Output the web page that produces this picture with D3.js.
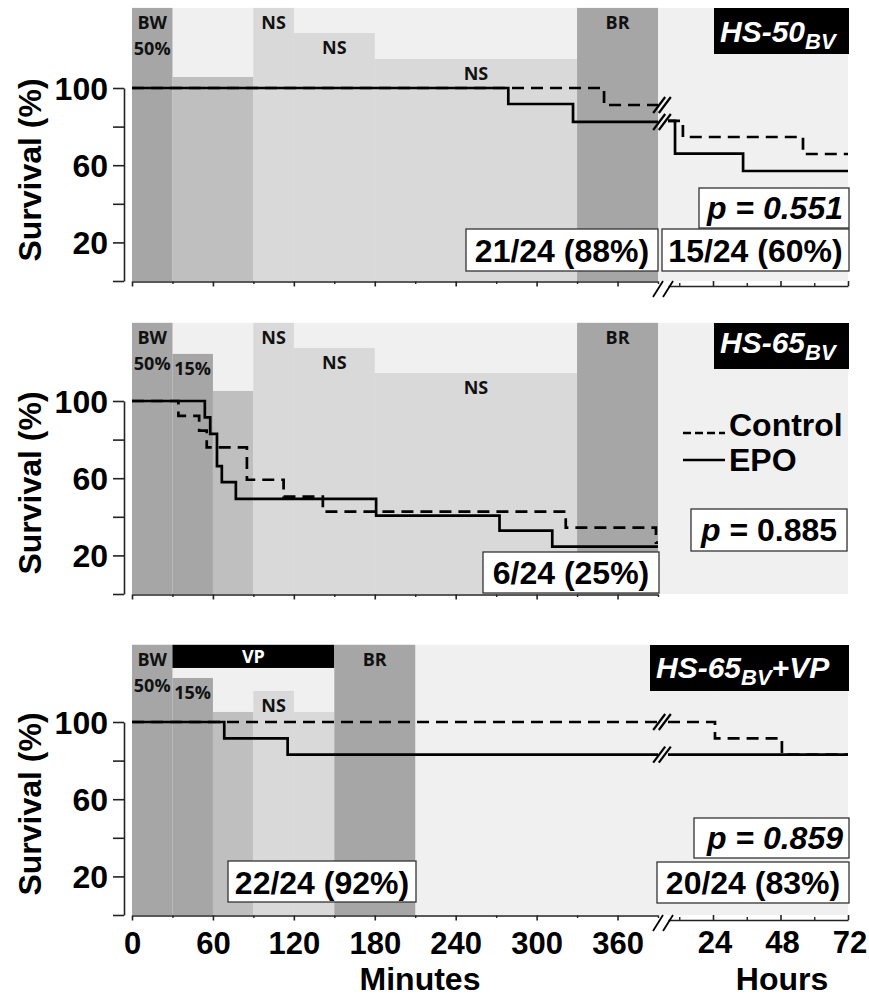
<!DOCTYPE html>
<html><head><meta charset="utf-8">
<script src="https://cdn.jsdelivr.net/npm/d3@7"></script>
<style>body{margin:0;background:#fff} svg{display:block}</style>
</head><body><svg id="c" width="869" height="998"></svg>
<script>
// ---------------- DATA ----------------
const minuteTicks = [0, 60, 120, 180, 240, 300, 360];
const minuteMinorTicks = [30, 90, 150, 210, 270, 330, 390];
const hourTicks = [24, 48, 72];
const hourMinorTicks = [12, 36, 60];
const yTickValues = [0, 20, 40, 60, 80, 100];
const yTickLabels = [20, 60, 100];
const legendLabels = ["Control", "EPO"];
const panelTitles = [["HS-50", "BV", ""], ["HS-65", "BV", ""], ["HS-65", "BV", "+VP"]];
const pValues = ["0.551", "0.885", "0.859"];

// Panel A (HS-50BV): [time, survival %]
const ctrlA_min = [[0, 100], [350, 91.2]];
const epoA_min  = [[0, 100], [279, 91.7], [327, 82.4]];
const ctrlA_hr  = [[8, 83], [13.3, 74.6], [56, 65.8]];
const epoA_hr   = [[8, 83], [10.5, 66], [34.7, 57]];

// Panel B (HS-65BV)
const ctrlB_min = [[0, 100], [34.4, 92.3], [49.8, 84.6], [55.4, 76], [85.2, 59.2], [112.4, 50.5], [141.5, 42.7], [321.6, 34.4], [388.5, 26.6]];
const epoB_min  = [[0, 100], [54, 91.5], [58, 83], [63, 66.3], [66.6, 58], [77, 49.3], [181, 40.6], [272.5, 32.8], [311.6, 24.5]];

// Panel C (HS-65BV+VP)
const ctrlC_min = [[0, 100]];
const epoC_min  = [[0, 100], [68.4, 91.5], [115.4, 83.1]];
const ctrlC_hr  = [[8, 100], [24.7, 91.5], [48.5, 83.1]];
const epoC_hr   = [[8, 83.1]];

// protocol phases: start/end minutes, top level (% units), shade category, labels
const phasesA = [
  {start: 0, end: 30, top: 141.5, shade: "dark", labels: ["BW", "50%"]},
  {start: 30, end: 90, top: 105.7, shade: "mid", labels: []},
  {start: 90, end: 120, top: 141.5, shade: "light", labels: ["NS"]},
  {start: 120, end: 180, top: 128.5, shade: "light", labels: ["NS"]},
  {start: 180, end: 330, top: 115, shade: "light", labels: ["NS"]},
  {start: 330, end: 390, top: 141.5, shade: "dark", labels: ["BR"]}
];
const phasesB = [
  {start: 0, end: 30, top: 140.5, shade: "dark", labels: ["BW", "50%"]},
  {start: 30, end: 60, top: 124.4, shade: "dark", labels: ["15%"]},
  {start: 60, end: 90, top: 105.2, shade: "mid", labels: []},
  {start: 90, end: 120, top: 140.5, shade: "light", labels: ["NS"]},
  {start: 120, end: 180, top: 127.5, shade: "light", labels: ["NS"]},
  {start: 180, end: 330, top: 114.5, shade: "light", labels: ["NS"]},
  {start: 330, end: 390, top: 140.5, shade: "dark", labels: ["BR"]}
];
const phasesC = [
  {start: 0, end: 30, top: 140, shade: "dark", labels: ["BW", "50%"]},
  {start: 30, end: 150, top: 140, bottom: 128, shade: "black", labels: ["VP"]},
  {start: 30, end: 60, top: 122.8, shade: "dark", labels: ["15%"]},
  {start: 60, end: 90, top: 105.2, shade: "mid", labels: []},
  {start: 90, end: 120, top: 116.1, shade: "light", labels: ["NS"]},
  {start: 120, end: 150, top: 105.2, shade: "light", labels: []},
  {start: 150, end: 210, top: 140, shade: "dark", labels: ["BR"]}
];
const countsA = ["21/24 (88%)", "15/24 (60%)"];
const countsB = ["6/24 (25%)"];
const countsC = ["22/24 (92%)", "20/24 (83%)"];

// ---------------- DRAWING ----------------
const svg = d3.select("#c");
const FONT = "'Liberation Sans', Arial, Helvetica, sans-serif";
const LFONT = "'Open Sans', 'DejaVu Sans', sans-serif";
const shadeColor = {dark: "#a6a6a6", mid: "#bfbfbf", light: "#d9d9d9", black: "#000"};
const BG = "#f0f0f0";
const xMin = d3.scaleLinear().domain([0, 390]).range([132, 658]);
const xHr = d3.scaleLinear().domain([24, 72]).range([713, 848]);
const K = 1.93;
const line = (x, y) => d3.line().x(d => x(d[0])).y(d => y(d[1])).curve(d3.curveStepAfter);

function slashPair(g, cx, cy, gap, hw, hh, sw) {
  [-gap, gap].forEach(o => {
    g.append("line").attr("x1", cx + o - hw).attr("y1", cy + hh)
      .attr("x2", cx + o + hw).attr("y2", cy - hh)
      .attr("stroke", "#000").attr("stroke-width", sw);
  });
}

function textBox(g, box, baseline, parts, opts) {
  opts = opts || {};
  g.append("rect").attr("x", box[0]).attr("y", box[1])
    .attr("width", box[2] - box[0]).attr("height", box[3] - box[1])
    .attr("fill", opts.fill || "#fff").attr("stroke", opts.stroke || "#333")
    .attr("stroke-width", opts.stroke === "none" ? 0 : 1.3);
  const t = g.append("text").attr("y", baseline)
    .attr("font-family", FONT).attr("font-weight", "bold")
    .attr("font-size", opts.size || 32).attr("fill", opts.color || "#000");
  parts.forEach(p => {
    const ts = t.append("tspan").text(p.text);
    if (p.italic) ts.attr("font-style", "italic");
    if (p.size) ts.attr("font-size", p.size);
    if (p.dy) ts.attr("dy", p.dy);
  });
  const w = t.node().getComputedTextLength();
  let x;
  if (opts.align === "start") x = box[0] + (opts.pad || 6);
  else if (opts.align === "end") x = box[2] - (opts.pad || 6) - w;
  else x = (box[0] + box[2]) / 2 - w / 2;
  t.attr("x", x);
}

function drawPanel(cfg) {
  const g = svg.append("g");
  const y = d3.scaleLinear().domain([0, 100]).range([cfg.y0, cfg.y0 - 100 * K]);
  const yTop = y(cfg.topV);
  const xRight = cfg.bgRight;
  // background
  g.append("rect").attr("x", xMin(0)).attr("y", yTop).attr("width", xRight - xMin(0))
    .attr("height", cfg.y0 - yTop).attr("fill", BG);
  // phases
  cfg.phases.forEach(p => {
    const top = y(p.top), bot = p.bottom !== undefined ? y(p.bottom) : cfg.y0;
    g.append("rect").attr("x", xMin(p.start)).attr("y", top)
      .attr("width", xMin(p.end) - xMin(p.start)).attr("height", bot - top)
      .attr("fill", shadeColor[p.shade]);
  });
  cfg.phases.forEach(p => {
    const top = y(p.top);
    p.labels.forEach((lab, i) => {
      g.append("text").attr("x", xMin((p.start + p.end) / 2))
        .attr("y", top + (p.shade === "black" ? 18 : (i === 0 ? 21 : 47)))
        .attr("text-anchor", "middle").attr("font-family", LFONT).attr("font-weight", "bold")
        .attr("font-size", 18).attr("fill", p.shade === "black" ? "#fff" : "#111").text(lab);
    });
  });
  // curves (minutes)
  const lm = line(xMin, y);
  cfg.minSeries.forEach(s => {
    const pts = s.d.concat([[390, s.d[s.d.length - 1][1]]]);
    g.append("path").attr("d", lm(pts)).attr("fill", "none").attr("stroke", "#000")
      .attr("stroke-width", 2.7).attr("stroke-dasharray", s.dash ? "12,7" : null);
  });
  // curves (hours)
  if (cfg.hrSeries) {
    const lh = line(xHr, y);
    cfg.hrSeries.forEach((s, i) => {
      const pts = s.d.concat([[72, s.d[s.d.length - 1][1]]]);
      g.append("path").attr("d", lh(pts)).attr("fill", "none").attr("stroke", "#000")
        .attr("stroke-width", 2.7).attr("stroke-dasharray", s.dash ? "12,7" : null);
      const m = cfg.minSeries[i].d;
      slashPair(g, 662, y(m[m.length - 1][1]), 2.8, 6, 8, 2.2);
    });
  }
  // y axis
  const ya = d3.axisLeft(y).tickValues(yTickValues).tickSize(11).tickSizeOuter(0).tickPadding(5)
    .tickFormat(d => yTickLabels.includes(d) ? d : "");
  const yg = g.append("g").attr("transform", "translate(124,0)").call(ya);
  yg.select(".domain").attr("stroke", "#222").attr("stroke-width", 1.6);
  yg.selectAll(".tick line").attr("stroke", "#222").attr("stroke-width", 1.6);
  yg.selectAll("text").attr("font-family", FONT).attr("font-weight", "bold")
    .attr("font-size", 32).attr("fill", "#000").attr("dy", "0.36em");
  // y title
  g.append("text").attr("transform", `translate(41,${cfg.y0 - 111}) rotate(-90)`)
    .attr("text-anchor", "middle").attr("font-family", FONT).attr("font-weight", "bold")
    .attr("font-size", 32).text("Survival (%)");
  // x axis minutes
  const xa = d3.axisBottom(xMin).tickValues(minuteTicks).tickSize(5).tickSizeOuter(0).tickPadding(11)
    .tickFormat(d => cfg.xLabels ? d : "");
  const xg = g.append("g").attr("transform", `translate(0,${cfg.y0 + 0.5})`).call(xa);
  xg.select(".domain").attr("stroke", "#222").attr("stroke-width", 1.6);
  xg.selectAll(".tick line").attr("stroke", "#222").attr("stroke-width", 1.6);
  xg.selectAll("text").attr("font-family", FONT).attr("font-weight", "bold")
    .attr("font-size", 31).attr("fill", "#000");
  const xm = d3.axisBottom(xMin).tickValues(minuteMinorTicks).tickSize(2.5).tickFormat("");
  const xmg = g.append("g").attr("transform", `translate(0,${cfg.y0 + 0.5})`).call(xm);
  xmg.select(".domain").remove();
  xmg.selectAll(".tick line").attr("stroke", "#222").attr("stroke-width", 1.4);
  // x axis hours
  if (cfg.hrSeries) {
    const hrAxisScale = xHr.copy().domain([8, 72]).range([xHr(8), xHr(72)]);
    const ha = d3.axisTop(hrAxisScale).tickValues(hourTicks).tickSize(5).tickSizeOuter(0).tickFormat("");
    const hg = g.append("g").attr("transform", `translate(0,${cfg.y0 + 5})`).call(ha);
    hg.select(".domain").attr("stroke", "#222").attr("stroke-width", 1.6);
    hg.selectAll(".tick line").attr("stroke", "#222").attr("stroke-width", 1.6);
    const hm = d3.axisTop(hrAxisScale).tickValues(hourMinorTicks).tickSize(3).tickFormat("");
    const hmg = g.append("g").attr("transform", `translate(0,${cfg.y0 + 5})`).call(hm);
    hmg.select(".domain").remove();
    hmg.selectAll(".tick line").attr("stroke", "#222").attr("stroke-width", 1.4);
    slashPair(g, 663, cfg.y0 + 8, 5, 5, 8, 1.8);
    if (cfg.xLabels) {
      hourTicks.forEach(h => {
        g.append("text").attr("x", xHr(h) + 2).attr("y", cfg.y0 + 38).attr("text-anchor", "middle")
          .attr("font-family", FONT).attr("font-weight", "bold").attr("font-size", 31).text(h);
      });
    }
  }
  return {g, y};
}

// Panel A
const A = drawPanel({y0: 281, topV: 141.5, phases: phasesA, bgRight: xHr(72),
  minSeries: [{d: ctrlA_min, dash: true}, {d: epoA_min, dash: false}],
  hrSeries: [{d: ctrlA_hr, dash: true}, {d: epoA_hr, dash: false}], xLabels: false});
textBox(A.g, [714, 8, 849, 54], 42,
  [{text: panelTitles[0][0], italic: true}, {text: panelTitles[0][1], italic: true, size: 22, dy: 7}],
  {fill: "#000", stroke: "none", color: "#fff", size: 30, align: "start", pad: 6});
textBox(A.g, [699, 188, 849, 228], 219, [{text: "p = " + pValues[0], italic: true}], {align: "end", pad: 6});
textBox(A.g, [466, 229, 658, 271], 262, [{text: countsA[0]}]);
textBox(A.g, [662, 229, 849, 271], 262, [{text: countsA[1]}]);

// Panel B
const B = drawPanel({y0: 594, topV: 140.5, phases: phasesB, bgRight: xHr(72),
  minSeries: [{d: ctrlB_min, dash: true}, {d: epoB_min, dash: false}],
  hrSeries: null, xLabels: false});
textBox(B.g, [714, 323, 849, 369], 353,
  [{text: panelTitles[1][0], italic: true}, {text: panelTitles[1][1], italic: true, size: 22, dy: 7}],
  {fill: "#000", stroke: "none", color: "#fff", size: 30, align: "start", pad: 6});
textBox(B.g, [691, 509, 847, 551], 541, [{text: "p", italic: true}, {text: " = " + pValues[1]}]);
textBox(B.g, [483, 552, 659, 593], 584, [{text: countsB[0]}]);
// legend
B.g.append("line").attr("x1", 683).attr("x2", 725).attr("y1", 433).attr("y2", 433)
  .attr("stroke", "#000").attr("stroke-width", 2.5).attr("stroke-dasharray", "8,4");
B.g.append("line").attr("x1", 683).attr("x2", 725).attr("y1", 460).attr("y2", 460)
  .attr("stroke", "#000").attr("stroke-width", 2.7);
B.g.append("text").attr("x", 729).attr("y", 436).attr("font-family", FONT).attr("font-weight", "bold")
  .attr("font-size", 32).text(legendLabels[0]);
B.g.append("text").attr("x", 729).attr("y", 471).attr("font-family", FONT).attr("font-weight", "bold")
  .attr("font-size", 32).text(legendLabels[1]);

// Panel C
const C = drawPanel({y0: 915, topV: 140, phases: phasesC, bgRight: xHr(72),
  minSeries: [{d: ctrlC_min, dash: true}, {d: epoC_min, dash: false}],
  hrSeries: [{d: ctrlC_hr, dash: true}, {d: epoC_hr, dash: false}], xLabels: true});
textBox(C.g, [650, 645, 849, 691], 678,
  [{text: panelTitles[2][0], italic: true}, {text: panelTitles[2][1], italic: true, size: 22, dy: 7},
   {text: panelTitles[2][2], italic: true, dy: -7}],
  {fill: "#000", stroke: "none", color: "#fff", size: 30, align: "start", pad: 6});
textBox(C.g, [694, 818, 849, 858], 849, [{text: "p = " + pValues[2], italic: true}], {align: "end", pad: 6});
textBox(C.g, [657, 862, 849, 903], 894, [{text: countsC[1]}]);
textBox(C.g, [228, 861, 416, 902], 894, [{text: countsC[0]}]);

// axis titles
svg.append("text").attr("x", 420).attr("y", 990).attr("text-anchor", "middle")
  .attr("font-family", FONT).attr("font-weight", "bold").attr("font-size", 32).text("Minutes");
svg.append("text").attr("x", 782).attr("y", 990).attr("text-anchor", "middle")
  .attr("font-family", FONT).attr("font-weight", "bold").attr("font-size", 32).text("Hours");
</script>
</body></html>
